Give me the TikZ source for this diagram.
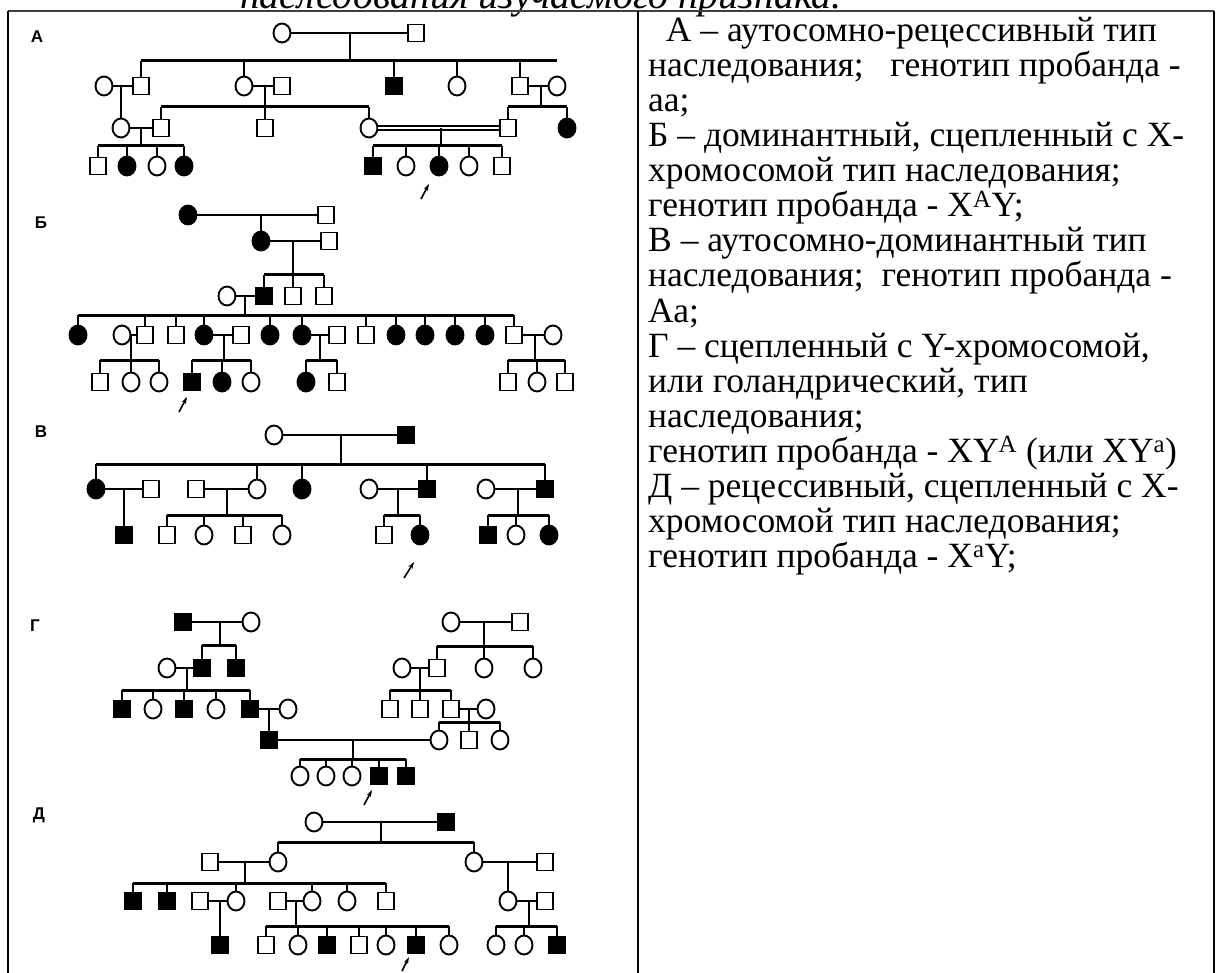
\documentclass[tikz,border=0pt]{standalone}
\usepackage{fontspec}
\setmainfont{Liberation Serif}
\newfontfamily\labfont{Liberation Sans}
\usetikzlibrary{shapes.geometric,arrows.meta}
\newcommand\pedticks[2]{\foreach \c in {#2}{\draw[vl] (\c.north) -- (\c.north |- 0,#1);}}
\newcommand\pedsib[3]{\draw[hl] (#2.north |- 0,#1) -- (#3.north |- 0,#1);}
\begin{document}
\begin{tikzpicture}[x=1pt,y=-1pt,
  sq/.style={draw,rectangle,minimum width=16pt,minimum height=17pt,inner sep=0pt,line width=1.9pt,fill=white},
  sqf/.style={sq,fill=black},
  ci/.style={draw,ellipse,minimum width=17pt,minimum height=19pt,inner sep=0pt,line width=1.9pt,fill=white},
  cif/.style={ci,fill=black},
  hl/.style={line width=3pt},
  vl/.style={line width=1.6pt},
  ml/.style={line width=2.8pt},
  arr/.style={-{Stealth[length=7pt,width=4.5pt]},line width=1.6pt},
  lab/.style={font=\labfont\bfseries\fontsize{17}{17}\selectfont,inner sep=0pt},
  txt/.style={anchor=base west,inner sep=0pt,font=\fontsize{35.5}{35}\selectfont},
  frame/.style={line width=2pt}]
\useasboundingbox (0,0) rectangle (1222,973);
\clip (0,0) rectangle (1222,973);
% title fragment and table
\node[anchor=base,inner sep=0pt,font=\itshape\fontsize{40}{44}\selectfont] (title) at (541,9) {наследования изучаемого признака.};
\draw[line width=1.6pt,black!75] (8,11) -- (1214,11);
\draw[frame] (8,11) -- (8,980);
\draw[frame] (638,11) -- (638,980);
\draw[frame] (1214,11) -- (1214,980);
% right column text
\node[txt] (t1) at (648,42) {\ \ А – аутосомно-рецессивный тип};
\node[txt] (t2) at (648,77) {наследования; \ \ генотип пробанда -};
\node[txt] (t3) at (648,112) {аа;};
\node[txt] (t4) at (648,147) {Б – доминантный, сцепленный с Х-};
\node[txt] (t5) at (648,182) {хромосомой тип наследования;};
\node[txt] (t6) at (648,217) {генотип пробанда - X\textsuperscript{A}Y;};
\node[txt] (t7) at (648,252) {В – аутосомно-доминантный тип};
\node[txt] (t8) at (648,287) {наследования; \ генотип пробанда -};
\node[txt] (t9) at (648,322) {Аа;};
\node[txt] (t10) at (648,357) {Г – сцепленный с Y-хромосомой,};
\node[txt] (t11) at (648,392) {или голандрический, тип};
\node[txt] (t12) at (648,427) {наследования;};
\node[txt] (t13) at (648,462) {генотип пробанда - XY\textsuperscript{A} (или XY\textsuperscript{a})};
\node[txt] (t14) at (648,497) {Д – рецессивный, сцепленный с Х-};
\node[txt] (t15) at (648,532) {хромосомой тип наследования;};
\node[txt] (t16) at (648,567) {генотип пробанда - X\textsuperscript{a}Y;};

% ================= A
\node[lab] (LA) at (37,37) {А};
\node[ci] (a1) at (282,33) {}; \node[sq] (a2) at (416,33) {};
\node[ci] (a4) at (104,86) {}; \node[sq] (a3) at (141,86) {};
\node[ci] (a5) at (244,86) {}; \node[sq] (a6) at (282,86) {};
\node[sqf] (a7) at (394,86) {}; \node[ci] (a8) at (457,86) {};
\node[sq] (a9) at (520,86) {}; \node[ci] (a10) at (557,86) {};
\node[ci] (a11) at (121,128) {}; \node[sq] (a12) at (161,128) {};
\node[sq] (a13) at (265,128) {}; \node[ci] (a14) at (369,128) {};
\node[sq] (a15) at (508,128) {}; \node[cif] (a16) at (567,128) {};
\node[sq] (a17) at (98,166) {}; \node[cif] (a18) at (127,166) {};
\node[ci] (a19) at (157,166) {}; \node[cif] (a20) at (184,166) {};
\node[sqf] (a21) at (373,166) {}; \node[ci] (a22) at (406,166) {};
\node[cif] (a23) at (439,166) {}; \node[ci] (a24) at (469,166) {};
\node[sq] (a25) at (502,166) {};
\draw[ml] (a1) -- (a2);
\draw[vl] (350,33) -- (350,61);
\pedsib{61}{a3}{a10}
\pedticks{61}{a3,a5,a7,a8,a9}
\draw[ml] (a4) -- (a3); \draw[ml] (a5) -- (a6); \draw[ml] (a9) -- (a10);
\draw[vl] (a11.north |- 0,86) -- (a11.north);
\draw[vl] (265,86) -- (265,107);
\pedsib{107}{a12}{a14}
\pedticks{107}{a12,a13,a14}
\draw[vl] (541,86) -- (541,107);
\pedsib{107}{a15}{a16}
\pedticks{107}{a15,a16}
\draw[ml] (a11) -- (a12);
\draw[line width=1.3pt,double,double distance=2.6pt] (a14) -- (a15);
\draw[vl] (141,128) -- (141,146);
\pedsib{146}{a17}{a20}
\pedticks{146}{a17,a18,a19,a20}
\draw[vl] (441,128) -- (441,146);
\pedsib{146}{a21}{a25}
\pedticks{146}{a21,a22,a23,a24,a25}
\coordinate (pA1) at (421,199); \coordinate (pA2) at (429,184);
\draw[arr] (pA1) -- (pA2);

% ================= Б
\node[lab] (LB) at (41,223) {Б};
\node[cif] (b1) at (188,215) {}; \node[sq] (b2) at (326,215) {};
\node[cif] (b3) at (261,241) {}; \node[sq] (b4) at (329,241) {};
\node[ci] (b5) at (227,296) {}; \node[sqf] (b6) at (264,296) {};
\node[sq] (b7) at (293,296) {}; \node[sq] (b8) at (324,296) {};
\foreach \n/\s/\x in {b9/cif/78,b10/ci/122,b11/sq/145,b12/sq/176,b13/cif/204,b14/sq/241,b15/cif/270,b16/cif/302,b17/sq/337,b18/sq/366,b19/cif/396,b20/cif/425,b21/cif/455,b22/cif/485,b23/sq/514,b24/ci/553}
  {\node[\s] (\n) at (\x,335) {};}
\foreach \n/\s/\x in {b25/sq/100,b26/ci/131,b27/ci/159,b28/sqf/192,b29/cif/222,b30/ci/251,b31/cif/306,b32/sq/337,b33/sq/508,b34/ci/537,b35/sq/565}
  {\node[\s] (\n) at (\x,382) {};}
\draw[ml] (b1) -- (b2);
\draw[vl] (b3.north |- 0,215) -- (b3.north);
\draw[ml] (b3) -- (b4);
\draw[vl] (293,241) -- (293,275);
\pedsib{275}{b6}{b8}
\pedticks{275}{b6,b7,b8}
\draw[ml] (b5) -- (b6);
\draw[vl] (245,296) -- (245,315);
\pedsib{315}{b9}{b23}
\pedticks{315}{b9,b11,b12,b13,b15,b16,b18,b19,b20,b21,b22,b23}
\draw[ml] (b10) -- (b11); \draw[ml] (b13) -- (b14);
\draw[ml] (b16) -- (b17); \draw[ml] (b23) -- (b24);
\draw[vl] (131,335) -- (131,360); \pedsib{360}{b25}{b27} \pedticks{360}{b25,b26,b27}
\draw[vl] (224,335) -- (224,360); \pedsib{360}{b28}{b30} \pedticks{360}{b28,b29,b30}
\draw[vl] (320,335) -- (320,360); \pedsib{360}{b31}{b32} \pedticks{360}{b31,b32}
\draw[vl] (535,335) -- (535,360); \pedsib{360}{b33}{b35} \pedticks{360}{b33,b34,b35}
\coordinate (pB1) at (179,412); \coordinate (pB2) at (187,397);
\draw[arr] (pB1) -- (pB2);

% ================= В
\node[lab] (LV) at (41,432) {В};
\node[ci] (c1) at (274,435) {}; \node[sqf] (c2) at (406,435) {};
\foreach \n/\s/\x in {c3/cif/96,c4/sq/151,c5/sq/196,c6/ci/257,c7/cif/302,c8/ci/369,c9/sqf/427,c10/ci/486,c11/sqf/545}
  {\node[\s] (\n) at (\x,489) {};}
\foreach \n/\s/\x in {c12/sqf/124,c13/sq/167,c14/ci/204,c15/sq/243,c16/ci/282,c17/sq/384,c18/cif/420,c19/sqf/488,c20/ci/516,c21/cif/549}
  {\node[\s] (\n) at (\x,535) {};}
\draw[ml] (c1) -- (c2);
\draw[vl] (341,435) -- (341,464);
\pedsib{464}{c3}{c11}
\pedticks{464}{c3,c6,c7,c9,c11}
\draw[ml] (c3) -- (c4); \draw[ml] (c5) -- (c6);
\draw[ml] (c8) -- (c9); \draw[ml] (c10) -- (c11);
\draw[vl] (c12.north |- 0,489) -- (c12.north);
\draw[vl] (227,489) -- (227,515); \pedsib{515}{c13}{c16} \pedticks{515}{c13,c14,c15,c16}
\draw[vl] (398,489) -- (398,515); \pedsib{515}{c17}{c18} \pedticks{515}{c17,c18}
\draw[vl] (518,489) -- (518,515); \pedsib{515}{c19}{c21} \pedticks{515}{c19,c20,c21}
\coordinate (pV1) at (404,578); \coordinate (pV2) at (414,562);
\draw[arr] (pV1) -- (pV2);

% ================= Г
\node[lab] (LG) at (35,626) {Г};
\node[sqf] (d1) at (183,622) {}; \node[ci] (d2) at (251,622) {};
\node[ci] (d3) at (167,668) {}; \node[sqf] (d4) at (202,668) {}; \node[sqf] (d5) at (236,668) {};
\foreach \n/\s/\x in {d6/sqf/122,d7/ci/153,d8/sqf/184,d9/ci/216,d10/sqf/250,d11/ci/288}
  {\node[\s] (\n) at (\x,709) {};}
\node[sqf] (d12) at (269,740) {};
\node[ci] (d13) at (451,622) {}; \node[sq] (d14) at (520,622) {};
\foreach \n/\s/\x in {d15/ci/402,d16/sq/437,d17/ci/484,d18/ci/533}
  {\node[\s] (\n) at (\x,668) {};}
\foreach \n/\s/\x in {d19/sq/390,d20/sq/420,d21/sq/451,d22/ci/486}
  {\node[\s] (\n) at (\x,709) {};}
\foreach \n/\s/\x in {d23/ci/439,d24/sq/469,d25/ci/500}
  {\node[\s] (\n) at (\x,740) {};}
\foreach \n/\s/\x in {d26/ci/300,d27/ci/326,d28/ci/352,d29/sqf/379,d30/sqf/406}
  {\node[\s] (\n) at (\x,776) {};}
\draw[ml] (d1) -- (d2);
\draw[vl] (220,622) -- (220,645); \pedsib{645}{d4}{d5} \pedticks{645}{d4,d5}
\draw[ml] (d3) -- (d4);
\draw[vl] (187,668) -- (187,690); \pedsib{690}{d6}{d10} \pedticks{690}{d6,d7,d8,d9,d10}
\draw[ml] (d10) -- (d11);
\draw[vl] (d12.north |- 0,709) -- (d12.north);
\draw[ml] (d13) -- (d14);
\draw[vl] (484,622) -- (484,646); \pedsib{646}{d16}{d18} \pedticks{646}{d16,d17,d18}
\draw[ml] (d15) -- (d16);
\draw[vl] (420,668) -- (420,690); \pedsib{690}{d19}{d21} \pedticks{690}{d19,d20,d21}
\draw[ml] (d21) -- (d22);
\draw[vl] (469,709) -- (469,722); \pedsib{722}{d23}{d25} \pedticks{722}{d23,d24,d25}
\draw[ml] (d12) -- (d23);
\draw[vl] (353,740) -- (353,759); \pedsib{759}{d26}{d30} \pedticks{759}{d26,d27,d28,d29,d30}
\coordinate (pG1) at (364,805); \coordinate (pG2) at (372,790);
\draw[arr] (pG1) -- (pG2);

% ================= Д
\node[lab] (LD) at (39,815) {Д};
\node[ci] (e1) at (314,822) {}; \node[sqf] (e2) at (446,822) {};
\foreach \n/\s/\x in {e3/sq/210,e4/ci/278,e5/ci/474,e6/sq/545}
  {\node[\s] (\n) at (\x,862) {};}
\foreach \n/\s/\x in {e7/sqf/133,e8/sqf/167,e9/sq/200,e10/ci/236,e11/sq/278,e12/ci/312,e13/ci/347,e14/sq/386,e15/ci/508,e16/sq/545}
  {\node[\s] (\n) at (\x,901) {};}
\foreach \n/\s/\x in {e17/sqf/220,e18/sq/266,e19/ci/298,e20/sqf/327,e21/sq/359,e22/ci/386,e23/sqf/416,e24/ci/449,e25/ci/496,e26/ci/524,e27/sqf/557}
  {\node[\s] (\n) at (\x,945) {};}
\draw[ml] (e1) -- (e2);
\draw[vl] (381,822) -- (381,842); \pedsib{842}{e4}{e5} \pedticks{842}{e4,e5}
\draw[ml] (e3) -- (e4); \draw[ml] (e5) -- (e6);
\draw[vl] (245,862) -- (245,883); \pedsib{883}{e7}{e14} \pedticks{883}{e7,e8,e10,e12,e13,e14}
\draw[ml] (e9) -- (e10); \draw[ml] (e11) -- (e12);
\draw[vl] (e15.north |- 0,862) -- (e15.north);
\draw[ml] (e15) -- (e16);
\draw[vl] (e17.north |- 0,901) -- (e17.north);
\draw[vl] (296,901) -- (296,926); \pedsib{926}{e18}{e24} \pedticks{926}{e18,e19,e20,e21,e22,e23,e24}
\draw[vl] (529,901) -- (529,926); \pedsib{926}{e25}{e27} \pedticks{926}{e25,e26,e27}
\coordinate (pD1) at (402,971); \coordinate (pD2) at (409,957);
\draw[arr] (pD1) -- (pD2);
\end{tikzpicture}
\end{document}
